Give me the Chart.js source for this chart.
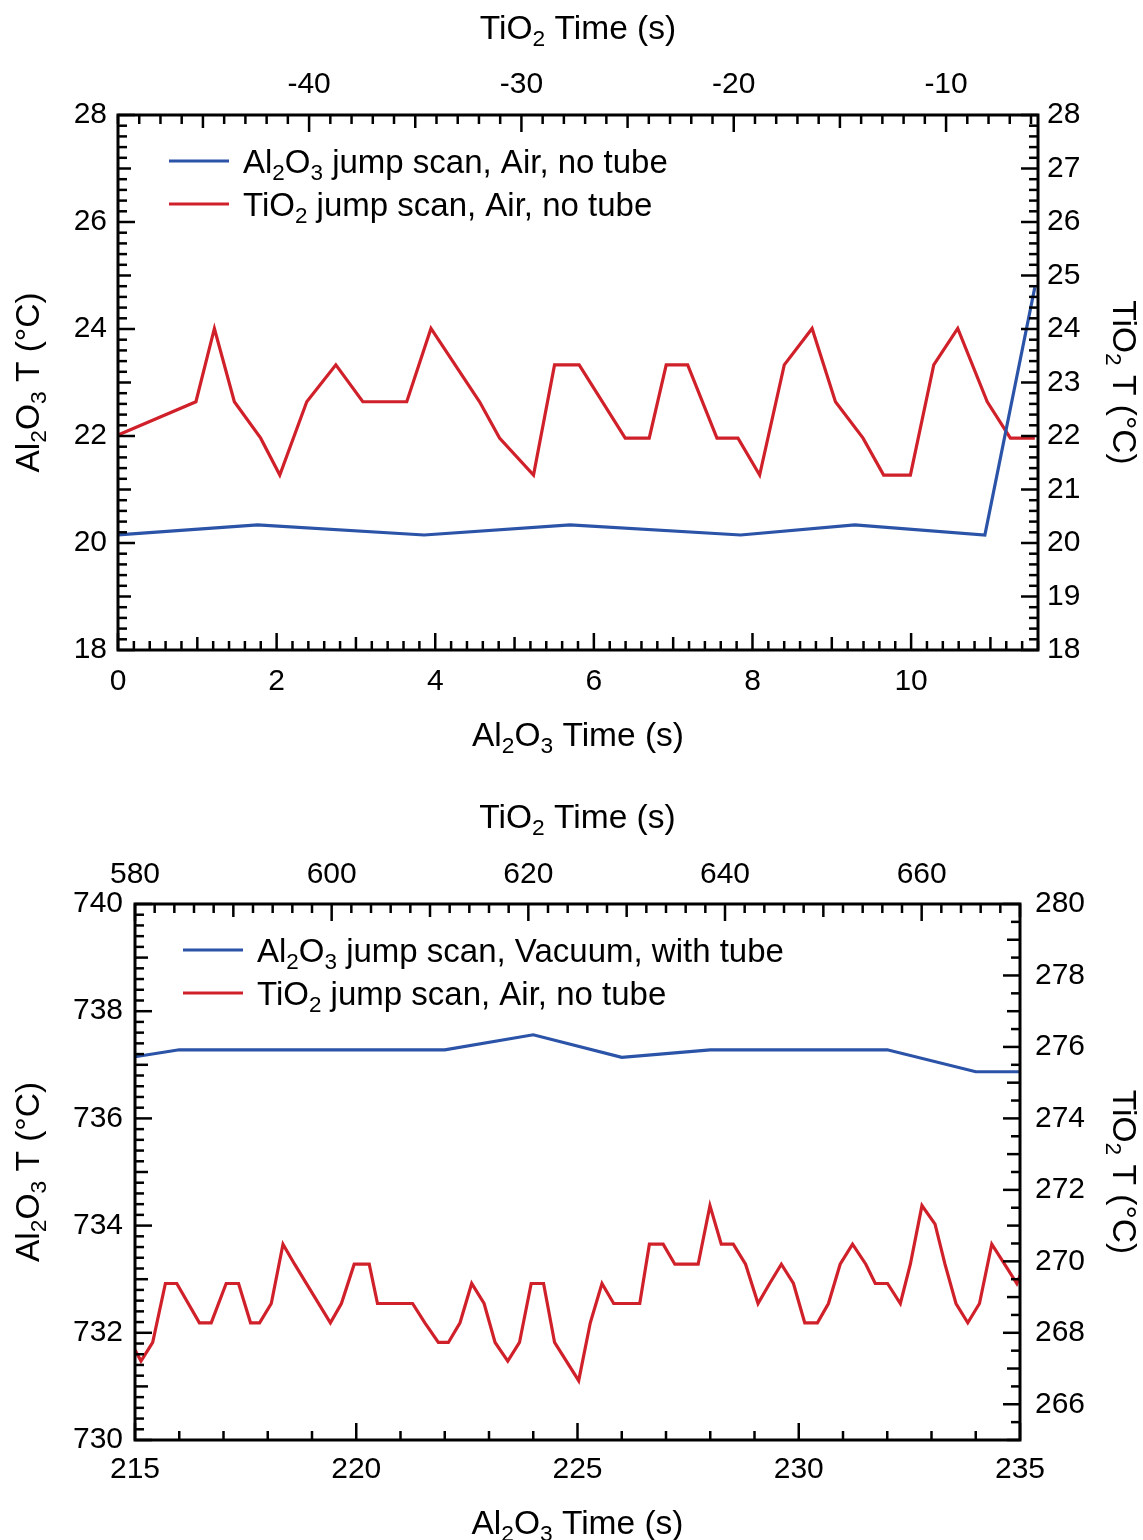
<!DOCTYPE html>
<html><head><meta charset="utf-8">
<script src="https://cdn.jsdelivr.net/npm/chart.js@4.4.0/dist/chart.umd.min.js"></script>
<style>
html,body{margin:0;padding:0;background:#fff;}
#wrap{position:relative;width:1143px;height:1540px;background:#fff;}
.c{position:absolute;left:0;width:1143px;height:770px;}
</style></head><body>
<div id="wrap">
<div class="c" style="top:0"><canvas id="c1" width="1143" height="770"></canvas></div>
<div class="c" style="top:770px"><canvas id="c2" width="1143" height="770"></canvas></div>
</div>
<script>
// ---------- DATA: top panel ----------
const topAlLabel = 'Al₂O₃ jump scan, Air, no tube';
const topTiLabel = 'TiO₂ jump scan, Air, no tube';
const topAlTime = [0, 1.76, 3.86, 5.70, 7.85, 9.29, 10.93, 11.56];
const topAlTemp = [20.15, 20.34, 20.15, 20.34, 20.15, 20.34, 20.15, 24.78];
const topTiTime = [-49.0, -45.33, -44.46, -43.52, -42.28, -41.38, -40.11, -38.74, -37.47, -35.40, -34.26, -31.97, -31.03, -29.43, -28.44, -27.28, -25.11, -23.98, -23.18, -22.17, -20.79, -19.80, -18.78, -17.62, -16.31, -15.21, -13.91, -12.94, -11.68, -10.58, -9.45, -8.06, -6.97, -5.82];
const topTiTemp = [22.02, 22.64, 24.01, 22.64, 21.96, 21.27, 22.64, 23.33, 22.64, 22.64, 24.01, 22.64, 21.96, 21.27, 23.33, 23.33, 21.96, 21.96, 23.33, 23.33, 21.96, 21.96, 21.27, 23.33, 24.01, 22.64, 21.96, 21.27, 21.27, 23.33, 24.01, 22.64, 21.96, 21.96];

// ---------- DATA: bottom panel ----------
const botAlLabel = 'Al₂O₃ jump scan, Vacuum, with tube';
const botTiLabel = 'TiO₂ jump scan, Air, no tube';
const botAlTime = [215, 216, 222, 224, 226, 228, 232, 234, 235];
const botAlTemp = [737.15, 737.28, 737.28, 737.56, 737.14, 737.28, 737.28, 736.87, 736.87];
const botTiTime = [580.0, 580.61, 581.80, 583.09, 584.25, 586.55, 587.75, 589.27, 590.53, 591.75, 592.67, 593.86, 595.05, 596.23, 599.87, 600.99, 602.29, 603.82, 604.66, 608.23, 609.48, 610.85, 611.87, 613.05, 614.24, 615.50, 616.62, 617.91, 619.10, 620.29, 621.55, 622.67, 625.12, 626.30, 627.49, 628.68, 631.33, 632.31, 633.71, 634.90, 637.27, 638.47, 639.62, 640.84, 642.09, 643.36, 644.54, 645.73, 646.96, 648.11, 649.40, 650.52, 651.71, 652.97, 654.32, 655.28, 656.53, 657.83, 658.85, 660.03, 661.36, 662.37, 663.49, 664.69, 665.88, 667.13, 668.43, 669.68, 670.5];
const botTiTemp = [267.52, 267.21, 267.73, 269.38, 269.38, 268.28, 268.28, 269.38, 269.38, 268.28, 268.28, 268.82, 270.48, 269.92, 268.28, 268.82, 269.92, 269.92, 268.82, 268.82, 268.28, 267.73, 267.73, 268.28, 269.38, 268.82, 267.73, 267.21, 267.73, 269.38, 269.38, 267.73, 266.66, 268.28, 269.38, 268.82, 268.82, 270.48, 270.48, 269.92, 269.92, 271.56, 270.48, 270.48, 269.92, 268.82, 269.38, 269.92, 269.38, 268.28, 268.28, 268.82, 269.92, 270.48, 269.92, 269.38, 269.38, 268.82, 269.92, 271.56, 271.04, 269.92, 268.82, 268.28, 268.82, 270.48, 269.92, 269.38, 269.92];

// ---------- axis titles ----------
const xBottomTitle = 'Al₂O₃ Time (s)';
const xTopTitle = 'TiO₂ Time (s)';
const yLeftTitle = 'Al₂O₃ T (°C)';
const yRightTitle = 'TiO₂ T (°C)';

const BLUE = '#2b53a7';
const RED = '#d0202a';
const FONT = "'Liberation Sans', Arial, Helvetica, sans-serif";
const SUBS = '₀₁₂₃₄₅₆₇₈₉';
const TITLE_SIZE = 33.5, LEGEND_SIZE = 33, TICK_SIZE = 30;

function richParts(str){
  const parts=[];
  for (const ch of str){
    const i=SUBS.indexOf(ch); const sub=i>=0; const c=sub?String(i):ch;
    if(parts.length && parts[parts.length-1].sub===sub) parts[parts.length-1].t+=c;
    else parts.push({t:c,sub});
  }
  return parts;
}
function drawRich(ctx, str, x, y, size, align){
  const parts=richParts(str);
  let w=0;
  for(const p of parts){ ctx.font=(p.sub?size*0.68:size)+'px '+FONT; w+=ctx.measureText(p.t).width; }
  let cx = align==='center'? x-w/2 : (align==='right'? x-w : x);
  ctx.textBaseline='alphabetic'; ctx.textAlign='left'; ctx.fillStyle='#000';
  for(const p of parts){
    const s=p.sub?size*0.68:size; ctx.font=s+'px '+FONT;
    ctx.fillText(p.t, cx, p.sub? y+size*0.22 : y);
    cx+=ctx.measureText(p.t).width;
  }
}
const pts=(xs,ys)=>xs.map((v,i)=>({x:v,y:ys[i]}));

const L_MAJ=17, L_MED=13, L_MIN=9;
const framePlugin = {
  id:'frame',
  afterDatasetsDraw(chart, args, opts){
    const ctx=chart.ctx, ca=chart.chartArea;
    ctx.save();
    ctx.strokeStyle='#000';
    ctx.lineWidth=2.5; ctx.lineCap='butt';
    for(const id of Object.keys(opts.ticks)){
      const sc=chart.scales[id]; const sp=opts.ticks[id];
      const eps=sp.minor*1e-3;
      const s=Math.ceil((sc.min-eps)/sp.minor), e=Math.floor((sc.max+eps)/sp.minor);
      const isMul=(v,st)=> st && Math.abs(v/st-Math.round(v/st))<1e-6;
      for(let k=s;k<=e;k++){
        const v=k*sp.minor;
        const len=isMul(v,sp.major)?L_MAJ:(isMul(v,sp.medium)?L_MED:L_MIN);
        const p=sc.getPixelForValue(v);
        ctx.beginPath();
        if(sc.position==='bottom'){ ctx.moveTo(p,ca.bottom); ctx.lineTo(p,ca.bottom-len); }
        else if(sc.position==='top'){ ctx.moveTo(p,ca.top); ctx.lineTo(p,ca.top+len); }
        else if(sc.position==='left'){ ctx.moveTo(ca.left,p); ctx.lineTo(ca.left+len,p); }
        else { ctx.moveTo(ca.right,p); ctx.lineTo(ca.right-len,p); }
        ctx.stroke();
      }
    }
    ctx.lineWidth=3;
    ctx.strokeRect(ca.left, ca.top, ca.right-ca.left, ca.bottom-ca.top);
    // axis titles
    const T=opts.titles, sz=TITLE_SIZE;
    const cxm=(ca.left+ca.right)/2, cym=(ca.top+ca.bottom)/2;
    drawRich(ctx, T.top, cxm, T.topY, sz, 'center');
    drawRich(ctx, T.bottom, cxm, T.bottomY, sz, 'center');
    ctx.save(); ctx.translate(T.leftX, cym); ctx.rotate(-Math.PI/2); drawRich(ctx, T.left, 0, 0, sz, 'center'); ctx.restore();
    ctx.save(); ctx.translate(T.rightX, cym); ctx.rotate(Math.PI/2); drawRich(ctx, T.right, 0, 0, sz, 'center'); ctx.restore();
    // legend
    const L=opts.legend;
    chart.data.datasets.forEach((ds,i)=>{
      const y=ca.top+L.dy+i*L.gap;
      const x0=ca.left+L.dx;
      ctx.strokeStyle=ds.borderColor; ctx.lineWidth=3;
      ctx.beginPath(); ctx.moveTo(x0,y); ctx.lineTo(x0+60,y); ctx.stroke();
      drawRich(ctx, ds.label, x0+74, y+12, LEGEND_SIZE, 'left');
    });
    ctx.restore();
  }
};

function fixW(w){ return s=>{ s.width=w; }; }
function fixH(h){ return s=>{ s.height=h; }; }
function axis(pos, min, max, step, pad, size){
  const horiz = pos==='top'||pos==='bottom';
  return {
    type:'linear', position:pos, min, max,
    grid:{display:false}, border:{display:false},
    title:{display:false},
    ticks:{stepSize:step, includeBounds:false, autoSkip:false, maxRotation:0, minRotation:0,
      padding:pad, color:'#000', font:{family:FONT, size:TICK_SIZE},
      callback:v=>String(Math.round(v*1000)/1000)},
    afterFit: horiz? fixH(size) : fixW(size)
  };
}
function line(label, color, data, xid, yid){
  return {label, data, borderColor:color, backgroundColor:color, borderWidth:3.2,
    pointRadius:0, tension:0, fill:false, xAxisID:xid, yAxisID:yid};
}

new Chart(document.getElementById('c1'), {
  type:'line',
  data:{datasets:[
    line(topAlLabel, BLUE, pts(topAlTime, topAlTemp), 'x', 'y'),
    line(topTiLabel, RED, pts(topTiTime, topTiTemp), 'x2', 'y2')
  ]},
  options:{
    responsive:false, animation:false,
    layout:{padding:0},
    plugins:{legend:{display:false}, tooltip:{enabled:false},
      frame:{
        ticks:{x:{minor:0.2,medium:1,major:2}, x2:{minor:1,medium:5,major:10}, y:{minor:0.2,medium:1,major:2}, y2:{minor:0.2,medium:0,major:1}},
        titles:{top:xTopTitle, topY:39, bottom:xBottomTitle, bottomY:746, left:yLeftTitle, leftX:39, right:yRightTitle, rightX:1113},
        legend:{dx:51, dy:46, gap:43}
      }},
    scales:{
      x: axis('bottom', 0, 11.6, 2, 6, 120),
      x2: axis('top', -49.0, -5.67, 10, 4, 115),
      y: axis('left', 18, 28, 2, 3, 118),
      y2: axis('right', 18, 28, 1, 1, 105)
    }
  },
  plugins:[framePlugin]
});

new Chart(document.getElementById('c2'), {
  type:'line',
  data:{datasets:[
    line(botAlLabel, BLUE, pts(botAlTime, botAlTemp), 'x', 'y'),
    line(botTiLabel, RED, pts(botTiTime, botTiTemp), 'x2', 'y2')
  ]},
  options:{
    responsive:false, animation:false,
    layout:{padding:0},
    plugins:{legend:{display:false}, tooltip:{enabled:false},
      frame:{
        ticks:{x:{minor:1,medium:0,major:5}, x2:{minor:2,medium:10,major:20}, y:{minor:0.2,medium:1,major:2}, y2:{minor:0.5,medium:1,major:2}},
        titles:{top:xTopTitle, topY:828-770, bottom:xBottomTitle, bottomY:1534-770, left:yLeftTitle, leftX:39, right:yRightTitle, rightX:1113},
        legend:{dx:48, dy:46, gap:43}
      }},
    scales:{
      x: axis('bottom', 215, 235, 5, 4, 100),
      x2: axis('top', 580, 670, 20, 3, 134),
      y: axis('left', 730, 740, 2, 4, 135),
      y2: axis('right', 265, 280, 2, 7, 123)
    }
  },
  plugins:[framePlugin]
});
</script>
</body></html>
